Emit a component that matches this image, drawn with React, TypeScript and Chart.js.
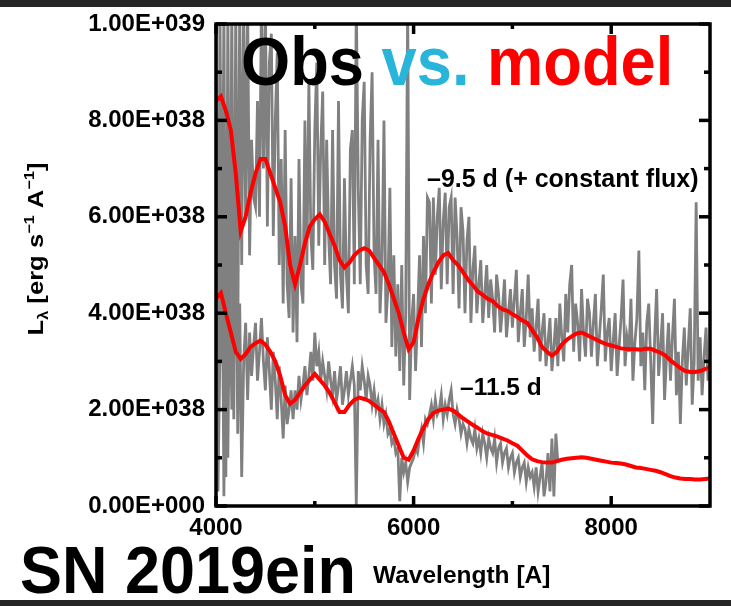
import React, { useEffect, useRef } from "react";
import { Chart, registerables } from "chart.js";

Chart.register(...registerables);

// Wavelength grids (Angstrom)
const OBS_START = 4000;
const OBS_STEP = 20;
const MODEL_START = 4000;
const MODEL_STEP = 50;

// Observed spectrum, -9.5 d (+ constant flux), in units of 1e38 erg/s/A
const obsEarly = [
  10.5, 1.2, 10.5, 3.0, 10.5, 0.6, 10.5, 2.5, 10.5, 1.8,
  10.5, 3.2, 10.5, 5.0, 10.5, 6.0, 10.5, 5.2, 7.6, 6.4,
  6.2, 8.4, 6.0, 10.5, 7.0, 10.5, 5.8, 9.2, 9.8, 5.6,
  8.0, 9.4, 5.0, 7.2, 4.2, 7.8, 4.6, 3.9, 6.8, 3.6,
  5.6, 3.4, 7.2, 4.6, 4.2, 8.0, 5.0, 8.8, 5.6, 4.9,
  7.8, 9.2, 5.4, 7.4, 8.6, 5.0, 7.6, 5.6, 4.6, 7.8,
  5.0, 4.3, 8.4, 4.8, 4.1, 6.8, 4.8, 4.0, 7.4, 7.8,
  4.6, 10.5, 6.6, 4.6, 8.0, 8.8, 5.0, 4.4, 7.6, 9.0,
  5.2, 4.4, 7.6, 4.0, 5.0, 8.0, 3.8, 4.5, 6.6, 3.3,
  5.2, 3.1, 4.6, 2.8, 5.0, 2.5, 4.0, 10.5, 2.2, 3.8,
  4.4, 2.8, 3.9, 5.2, 3.3, 5.6, 4.0, 6.4, 6.3, 4.2,
  6.4, 4.8, 6.0, 6.6, 4.5, 5.9, 6.5, 4.6, 6.2, 6.4,
  4.4, 6.4, 5.6, 4.1, 6.2, 5.7, 4.0, 5.5, 6.0, 3.8,
  4.9, 5.4, 4.0, 4.6, 5.1, 3.8, 4.4, 5.0, 3.9, 4.7,
  4.3, 3.6, 4.8, 4.4, 3.6, 4.1, 4.7, 3.5, 4.0, 4.5,
  3.7, 4.3, 4.9, 3.4, 4.0, 4.5, 3.3, 3.9, 4.8, 3.5,
  4.1, 3.2, 3.7, 4.3, 3.0, 3.6, 4.0, 2.9, 3.4, 3.9,
  2.8, 3.3, 3.9, 2.9, 4.2, 3.5, 3.0, 4.4, 3.6, 4.6,
  5.0, 3.2, 4.2, 3.8, 3.0, 4.5, 3.6, 3.1, 4.3, 4.0,
  3.1, 3.8, 4.4, 2.9, 3.5, 4.1, 4.8, 3.0, 3.6, 3.9,
  2.8, 3.4, 4.0, 2.7, 3.3, 3.9, 4.7, 2.9, 3.5, 3.2,
  4.3, 2.6, 3.4, 3.9, 5.3, 2.9, 3.6, 2.4, 3.8, 4.2,
  3.0, 1.7, 3.5, 4.5, 2.7, 3.3, 4.0, 2.2, 3.1, 3.8,
  2.6, 3.5, 4.3, 2.3, 3.2, 1.7, 3.0, 3.7, 2.5, 3.3,
  4.1, 2.1, 3.0, 6.3, 2.6, 3.5, 2.3, 3.1, 3.7, 2.6,
  3.0,
];

// Observed spectrum, -11.5 d
const obsLate = [
  5.8, 0.3, 3.2, 6.0, 0.2, 4.6, 1.0, 5.2, 2.0, 3.0,
  5.5, 1.5, 4.2, 0.6, 3.0, 3.8, 2.2, 3.6, 2.7, 3.3,
  3.8, 2.6, 3.2, 3.9, 3.0, 2.4, 3.5, 2.8, 2.0, 3.2,
  2.6, 1.8, 2.9, 2.2, 1.4, 2.5, 1.7, 2.0, 2.4, 1.8,
  2.4, 2.0, 2.7, 2.2, 2.5, 2.9, 2.3, 2.7, 3.2, 2.6,
  3.6, 2.9, 3.2, 2.6, 3.0, 2.7, 2.4, 3.0, 2.6, 2.3,
  2.8, 2.2, 2.5, 2.9, 2.1, 2.4, 2.8, 2.3, 2.6, 2.9,
  2.5, 0.0, 2.8, 2.4, 2.9, 2.6, 2.2, 2.7, 2.5, 2.1,
  2.4, 2.0, 2.2, 1.8, 2.1, 1.7, 1.9, 1.5, 1.6, 1.3,
  1.4, 1.1, 1.2, 0.1, 1.0, 0.7, 0.9, 0.5, 0.8, 0.9,
  1.0, 1.2, 1.1, 1.4, 1.6, 1.3, 1.8, 1.7, 1.9, 2.1,
  1.8, 2.2, 1.9, 2.0, 2.3, 1.8, 2.1, 1.9, 2.2, 2.4,
  1.9, 1.7, 2.0, 1.8, 1.5, 1.7, 1.6, 1.3, 1.6, 1.4,
  1.3, 1.6, 1.2, 1.4, 1.1, 1.5, 1.3, 1.0, 1.4, 1.2,
  1.1, 1.4, 0.9, 1.2, 1.3, 0.9, 1.1, 1.2, 0.8, 1.0,
  1.1, 0.7, 0.9, 1.0, 0.6, 0.8, 0.9, 0.5, 0.8, 0.6,
  0.7, 0.4, 0.8, 0.3, 0.6, 0.9, 0.2, 0.5, 1.1, 0.3,
  1.4, 0.2, 1.5, 0.9,
];

// Model spectra
const modelEarly = [
  8.4, 8.5, 8.2, 7.8, 6.9, 5.7, 6.0, 6.5, 6.9, 7.2,
  7.2, 6.9, 6.6, 6.3, 5.8, 5.0, 4.6, 5.0, 5.45, 5.8,
  5.95, 6.05, 5.9, 5.65, 5.4, 5.1, 4.95, 5.05, 5.2, 5.3,
  5.35, 5.3, 5.15, 5.0, 4.85, 4.6, 4.3, 4.0, 3.6, 3.25,
  3.4, 3.9, 4.3, 4.6, 4.85, 5.05, 5.2, 5.25, 5.1, 5.0,
  4.85, 4.7, 4.58, 4.45, 4.38, 4.3, 4.25, 4.15, 4.08, 4.05,
  3.98, 3.92, 3.85, 3.8, 3.65, 3.5, 3.3, 3.2, 3.12, 3.2,
  3.35, 3.45, 3.52, 3.58, 3.6, 3.55, 3.5, 3.45, 3.4, 3.36,
  3.33, 3.3, 3.27, 3.26, 3.25, 3.25, 3.24, 3.26, 3.26, 3.22,
  3.18, 3.12, 3.02, 2.94, 2.86, 2.8, 2.78, 2.78, 2.8, 2.84,
  2.88,
];

const modelLate = [
  4.3, 4.42, 4.0, 3.6, 3.2, 3.05, 3.15, 3.3, 3.38, 3.43,
  3.35, 3.2, 3.0, 2.7, 2.3, 2.12, 2.2, 2.35, 2.5, 2.62,
  2.74, 2.62, 2.5, 2.35, 2.15, 1.95, 1.95, 2.1, 2.2, 2.25,
  2.22, 2.18, 2.1, 2.02, 1.95, 1.75, 1.5, 1.25, 1.0, 0.96,
  1.15, 1.4, 1.62, 1.8, 1.93, 1.98, 2.0, 2.02, 1.98, 1.9,
  1.82, 1.75, 1.68, 1.62, 1.55, 1.5, 1.47, 1.44, 1.4, 1.36,
  1.3, 1.25, 1.15, 1.05, 0.97, 0.93, 0.91, 0.9, 0.9, 0.93,
  0.96, 0.98, 0.99, 1.0, 1.01, 1.0, 0.98, 0.96, 0.94, 0.92,
  0.9, 0.89, 0.88, 0.86, 0.83, 0.8, 0.79, 0.77, 0.75, 0.73,
  0.7, 0.66, 0.62, 0.59, 0.57, 0.56, 0.56, 0.55, 0.55, 0.56,
  0.57,
];

const xTickValues = [4000, 6000, 8000];
const xTickLabels = ["4000", "6000", "8000"];
const xMinorValues = [5000, 7000];
const yTickValues = [0, 2, 4, 6, 8, 10];
const yTickLabels = ["0.00E+000", "2.00E+038", "4.00E+038", "6.00E+038", "8.00E+038", "1.00E+039"];
const yMinorValues = [1, 3, 5, 7, 9];

const FONT = '"Liberation Sans", Arial, Helvetica, sans-serif';
const GRAY = "#808080";
const RED = "#ff0000";

const toPoints = (vals: number[], start: number, step: number) =>
  vals.map((v, i) => ({ x: start + i * step, y: v }));

function drawText(
  ctx: CanvasRenderingContext2D,
  text: string,
  x: number,
  y: number,
  size: number,
  color: string,
  sx = 1,
  align: CanvasTextAlign = "left",
  baseline: CanvasTextBaseline = "alphabetic"
) {
  ctx.save();
  ctx.font = `bold ${size}px ${FONT}`;
  ctx.fillStyle = color;
  ctx.textAlign = align;
  ctx.textBaseline = baseline;
  ctx.translate(x, y);
  ctx.scale(sx, 1);
  ctx.fillText(text, 0, 0);
  ctx.restore();
}

const decorations = {
  id: "decorations",
  beforeDraw(chart: any) {
    const { ctx, width, height } = chart;
    ctx.save();
    ctx.fillStyle = "#ffffff";
    ctx.fillRect(0, 0, width, height);
    ctx.fillStyle = "#262626";
    ctx.fillRect(0, 0, width, 7);
    ctx.fillRect(0, height - 6, width, 6);
    ctx.restore();
  },
  afterDatasetsDraw(chart: any) {
    const { ctx, chartArea: a } = chart;
    const xs = chart.scales.x;
    const ys = chart.scales.y;

    ctx.save();
    ctx.strokeStyle = "#000";
    ctx.lineWidth = 3.5;
    ctx.strokeRect(a.left, a.top, a.right - a.left, a.bottom - a.top);

    const seg = (x1: number, y1: number, x2: number, y2: number) => {
      ctx.beginPath();
      ctx.moveTo(x1, y1);
      ctx.lineTo(x2, y2);
      ctx.stroke();
    };
    const xTick = (v: number, len: number) => {
      const p = xs.getPixelForValue(v);
      seg(p, a.bottom, p, a.bottom - len);
      seg(p, a.top, p, a.top + len);
    };
    const yTick = (v: number, len: number) => {
      const p = ys.getPixelForValue(v);
      seg(a.left, p, a.left + len, p);
      seg(a.right, p, a.right - len, p);
    };
    xTickValues.forEach((v) => xTick(v, 10));
    xMinorValues.forEach((v) => xTick(v, 5));
    yTickValues.forEach((v) => yTick(v, 11));
    yMinorValues.forEach((v) => yTick(v, 6));
    ctx.restore();

    // tick labels
    yTickValues.forEach((v, i) =>
      drawText(ctx, yTickLabels[i], a.left - 11, ys.getPixelForValue(v), 24, "#000", 1, "right", "middle")
    );
    xTickValues.forEach((v, i) =>
      drawText(ctx, xTickLabels[i], xs.getPixelForValue(v), 528, 24, "#000", 1, "center", "middle")
    );

    // headline: Obs vs. model
    ctx.save();
    const hs = 68;
    const hsx = 0.93;
    ctx.font = `bold ${hs}px ${FONT}`;
    const w1 = ctx.measureText("Obs ").width * hsx;
    const w2 = ctx.measureText("vs. ").width * hsx;
    ctx.restore();
    const hx = 241;
    const hy = 85;
    drawText(ctx, "Obs", hx, hy, hs, "#000", hsx);
    drawText(ctx, "vs.", hx + w1, hy, hs, "#29b5d9", hsx);
    drawText(ctx, "model", hx + w1 + w2, hy, hs, RED, hsx);

    // spectrum labels
    drawText(ctx, "–9.5 d (+ constant flux)", 427, 187, 25, "#000");
    drawText(ctx, "–11.5 d", 460, 395, 24.5, "#000");

    // x axis title and object name
    drawText(ctx, "Wavelength [A]", 373, 583, 24.5, "#000");
    ctx.save();
    ctx.font = `bold 67px ${FONT}`;
    const snW = ctx.measureText("SN 2019ein").width;
    ctx.restore();
    drawText(ctx, "SN 2019ein", 20, 593, 67, "#000", 336 / snW);

    // rotated y axis title
    const parts = [
      { t: "L", s: 22, dy: 0 },
      { t: "λ", s: 14, dy: 5 },
      { t: " [erg s", s: 22, dy: 0 },
      { t: "−1", s: 14, dy: -9 },
      { t: " A", s: 22, dy: 0 },
      { t: "−1", s: 14, dy: -9 },
      { t: "]", s: 22, dy: 0 },
    ];
    ctx.save();
    let total = 0;
    const widths = parts.map((p) => {
      ctx.font = `bold ${p.s}px ${FONT}`;
      const w = ctx.measureText(p.t).width;
      total += w;
      return w;
    });
    const span = 173;
    const k = span / total;
    ctx.translate(35, 249);
    ctx.rotate(-Math.PI / 2);
    ctx.scale(k, 1);
    ctx.fillStyle = "#000";
    ctx.textBaseline = "alphabetic";
    let cx = -total / 2;
    parts.forEach((p, i) => {
      ctx.font = `bold ${p.s}px ${FONT}`;
      ctx.fillText(p.t, cx, 8 + p.dy);
      cx += widths[i];
    });
    ctx.restore();
  },
};

export default function App() {
  const ref = useRef<HTMLCanvasElement | null>(null);

  useEffect(() => {
    if (!ref.current) return;
    const chart = new Chart(ref.current, {
      type: "line",
      data: {
        datasets: [
          {
            label: "-9.5 d observed",
            data: toPoints(obsEarly, OBS_START, OBS_STEP),
            borderColor: GRAY,
            borderWidth: 2.8,
            pointRadius: 0,
            tension: 0,
            order: 2,
          },
          {
            label: "-11.5 d observed",
            data: toPoints(obsLate, OBS_START, OBS_STEP),
            borderColor: GRAY,
            borderWidth: 2.8,
            pointRadius: 0,
            tension: 0,
            order: 2,
          },
          {
            label: "-9.5 d model",
            data: toPoints(modelEarly, MODEL_START, MODEL_STEP),
            borderColor: RED,
            borderWidth: 4,
            pointRadius: 0,
            tension: 0,
            order: 1,
          },
          {
            label: "-11.5 d model",
            data: toPoints(modelLate, MODEL_START, MODEL_STEP),
            borderColor: RED,
            borderWidth: 4,
            pointRadius: 0,
            tension: 0,
            order: 1,
          },
        ],
      },
      options: {
        responsive: false,
        animation: false,
        devicePixelRatio: 1,
        parsing: false,
        layout: { padding: { left: 216, right: 21, top: 24, bottom: 100 } },
        plugins: { legend: { display: false }, tooltip: { enabled: false } },
        scales: {
          x: { type: "linear", min: 4000, max: 9000, display: false },
          y: { type: "linear", min: 0, max: 10, display: false },
        },
      },
      plugins: [decorations],
    } as any);
    return () => chart.destroy();
  }, []);

  return (
    <div style={{ position: "absolute", left: 0, top: 0, width: 731, height: 606, background: "#fff" }}>
      <canvas ref={ref} width={731} height={606} style={{ display: "block" }} />
    </div>
  );
}
